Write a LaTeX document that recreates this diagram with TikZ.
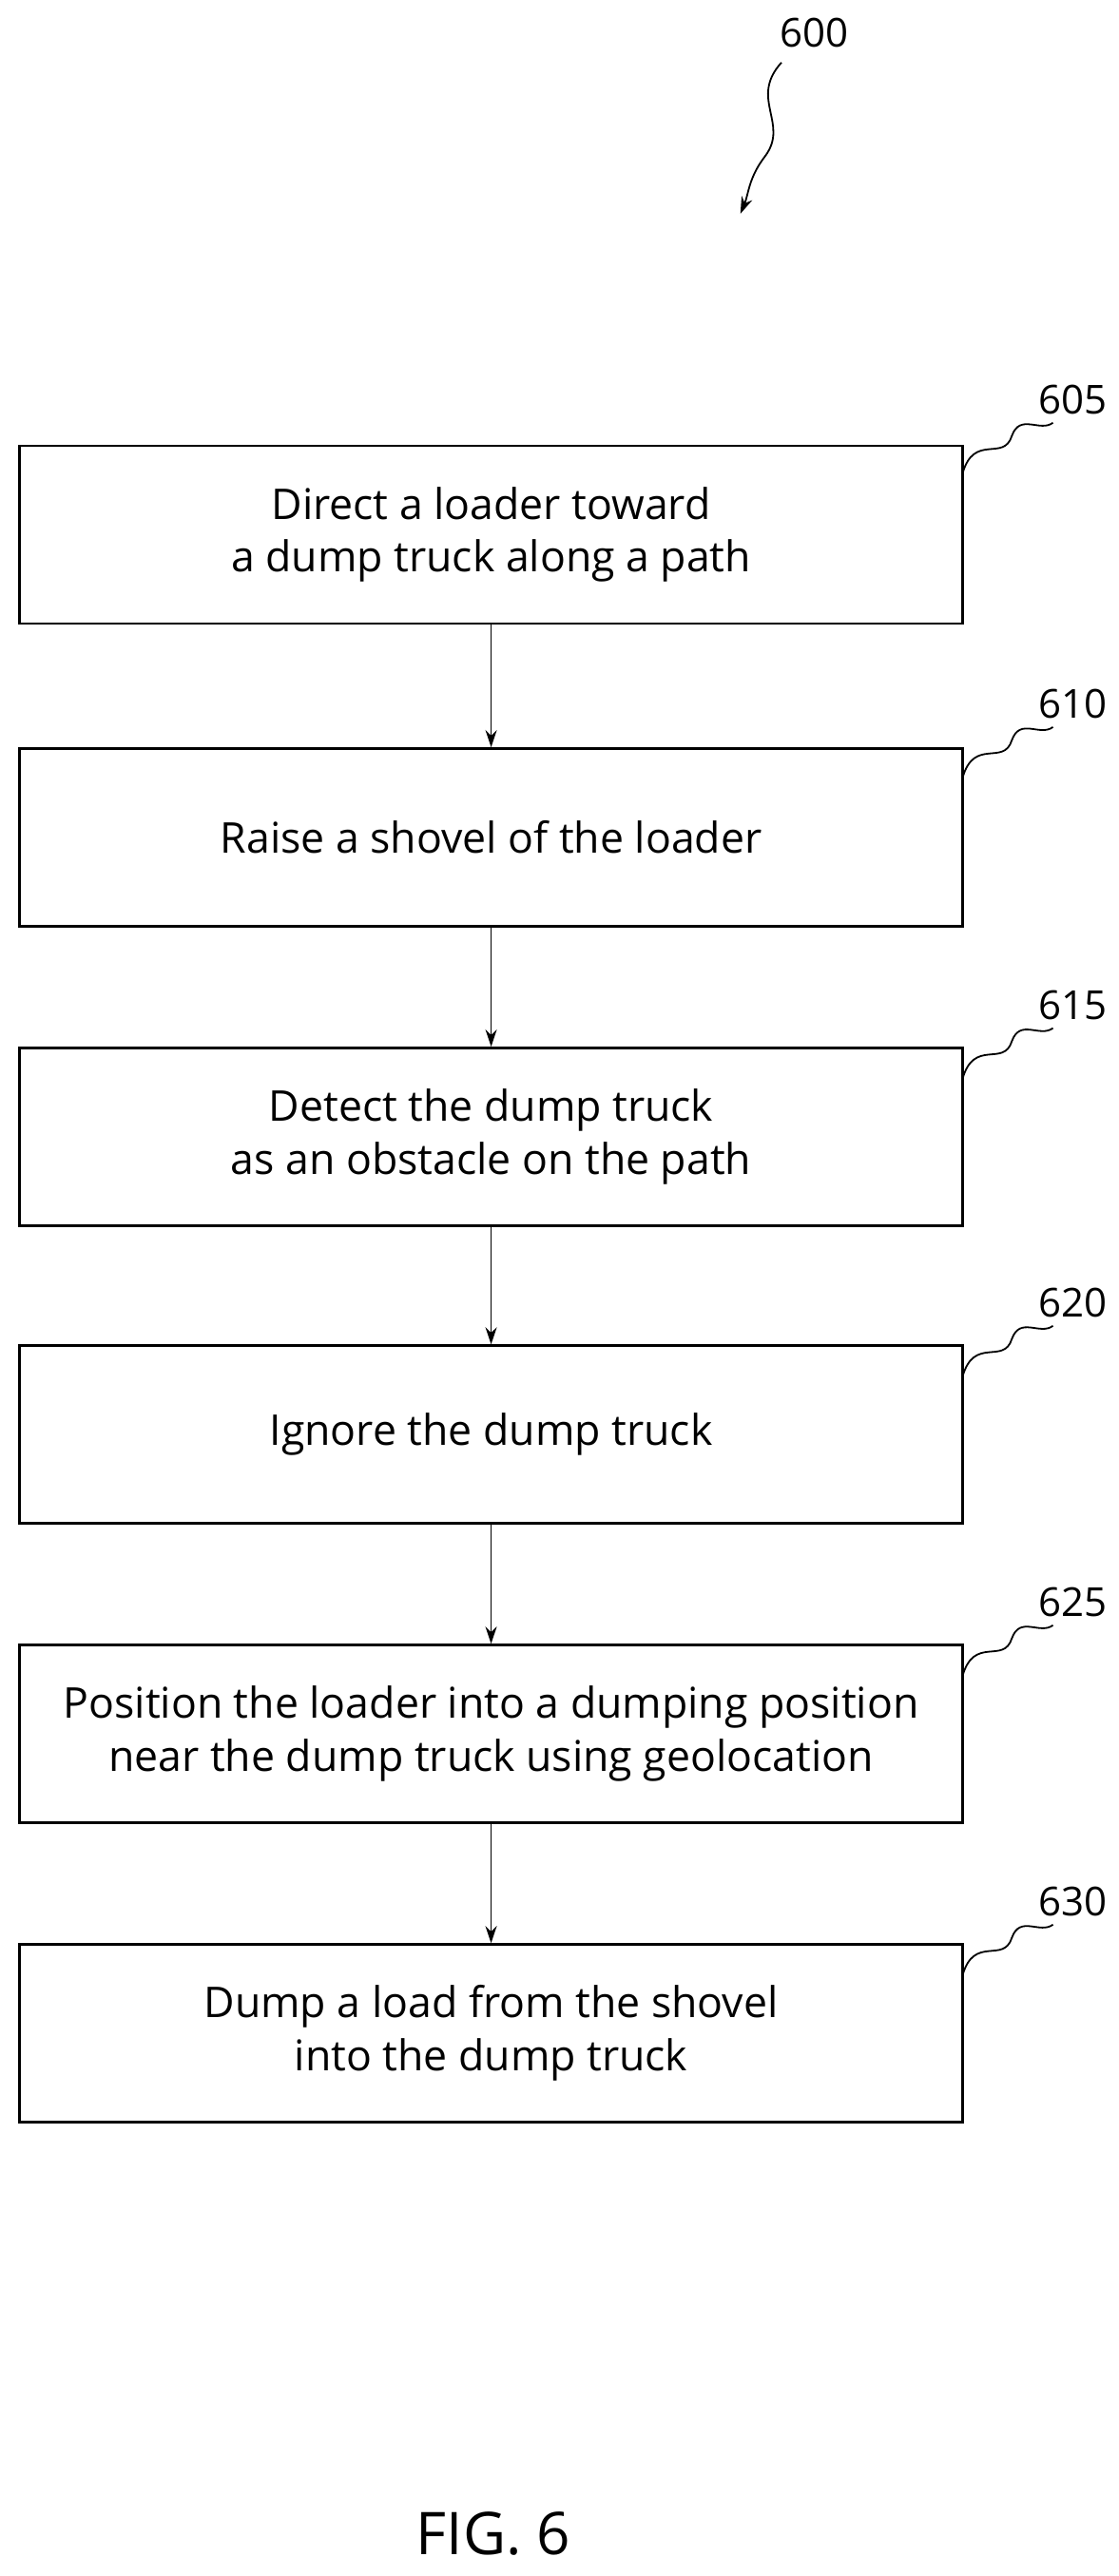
\documentclass[tikz,border=0pt]{standalone}
\usepackage{fontspec}
\setmainfont{Open Sans}
\usetikzlibrary{arrows.meta}
\begin{document}
\begin{tikzpicture}[x=0.8655pt,y=-0.8655pt,
  box/.style={draw,line width=1.3pt,minimum width=573*0.8655pt,minimum height=108*0.8655pt,align=center,font=\fontsize{22.3}{27.7}\selectfont,inner sep=0pt},
  lab/.style={font=\fontsize{21}{24}\selectfont},
  arr/.style={-{Stealth[length=9pt,width=6pt]},line width=0.9pt}]
\useasboundingbox (0,0) rectangle (680,1566);
\node[box] (b605) at (298.5,325) {Direct a loader toward\\a dump truck along a path};
\node[box] (b610) at (298.5,509) {Raise a shovel of the loader};
\node[box] (b615) at (298.5,691) {Detect the dump truck\\as an obstacle on the path};
\node[box] (b620) at (298.5,872) {Ignore the dump truck};
\node[box] (b625) at (298.5,1054) {Position the loader into a dumping position\\near the dump truck using geolocation};
\node[box] (b630) at (298.5,1236) {Dump a load from the shovel\\into the dump truck};
\foreach \a/\b in {b605/b610,b610/b615,b615/b620,b620/b625,b625/b630}
  \draw[arr] (\a.south) -- (\b.north);
\foreach \n/\y in {605/243,610/428,615/611,620/792,625/974,630/1156}{
  \node[lab] (l\n) at (652,\y) {\n};
  \draw[line width=0.9pt] (585,\y+45) .. controls (592,\y+20) and (610,\y+38) .. (615,\y+22) .. controls (620,\y+8) and (632,\y+20) .. (640,\y+14);
}
\node[lab] (l600) at (495,20) {600};
\coordinate (a600) at (450,130);
\draw[line width=0.9pt,-{Stealth[length=9pt,width=6pt]}] (475,38) .. controls (455,60) and (480,75) .. (465,95) .. controls (455,108) and (455,118) .. (a600);
\node[font=\fontsize{31}{35}\selectfont] (fig) at (300,1540) {FIG. 6};
\end{tikzpicture}
\end{document}
